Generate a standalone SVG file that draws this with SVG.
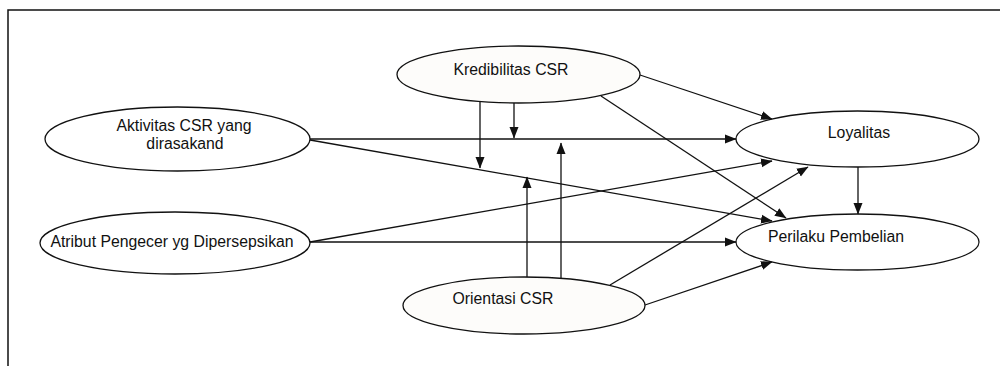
<svg xmlns="http://www.w3.org/2000/svg" width="1000" height="366" viewBox="0 0 1000 366">
<style>
.node ellipse{stroke:#111;stroke-width:1.3;fill:#fff}
.node.tint ellipse{fill:#fdfcfa}
.node text{font-family:"Liberation Sans",Arial,sans-serif;font-size:15.8px;fill:#111;text-anchor:middle}
#connectors line{stroke:#111;stroke-width:1.3;fill:none;marker-end:url(#arr)}
.frame{stroke:#111;stroke-width:1.5;fill:none}
</style>
<defs>
<marker id="arr" markerUnits="userSpaceOnUse" markerWidth="12" markerHeight="10" viewBox="0 0 12 10" refX="11" refY="5" orient="auto">
<path d="M0,0.5 L11.5,5 L0,9.5 Z" fill="#111"/>
</marker>
</defs>
<rect width="1000" height="366" fill="#fff"/>
<path class="frame" d="M8,366 L8,10 L1000,10"/>

<g id="n-kredibilitas" class="node tint">
<ellipse cx="518.5" cy="74.5" rx="121.5" ry="28.5"/>
<text x="511" y="75">Kredibilitas CSR</text>
</g>
<g id="n-aktivitas" class="node">
<ellipse cx="177.5" cy="139" rx="132.5" ry="32"/>
<text x="184" y="131">Aktivitas CSR yang</text>
<text x="185" y="149">dirasakand</text>
</g>
<g id="n-loyalitas" class="node">
<ellipse cx="857.5" cy="139" rx="121.5" ry="28"/>
<text x="859" y="138">Loyalitas</text>
</g>
<g id="n-atribut" class="node">
<ellipse cx="175" cy="243" rx="135" ry="31"/>
<text x="172" y="247">Atribut Pengecer yg Dipersepsikan</text>
</g>
<g id="n-orientasi" class="node tint">
<ellipse cx="524" cy="305.5" rx="121" ry="28.5"/>
<text x="503" y="304">Orientasi CSR</text>
</g>
<g id="n-perilaku" class="node">
<ellipse cx="857.5" cy="242" rx="121.5" ry="28"/>
<text x="836" y="242">Perilaku Pembelian</text>
</g>

<g id="connectors">
<line x1="310" y1="139" x2="736" y2="139"/>
<line x1="310" y1="140" x2="772" y2="221"/>
<line x1="640" y1="75" x2="772" y2="119"/>
<line x1="601" y1="96" x2="786" y2="218"/>
<line x1="480" y1="102" x2="480" y2="168"/>
<line x1="514" y1="103" x2="514" y2="138"/>
<line x1="310" y1="242" x2="772" y2="161"/>
<line x1="310" y1="242" x2="736" y2="242"/>
<line x1="527" y1="277" x2="527" y2="177"/>
<line x1="561" y1="278" x2="561" y2="143"/>
<line x1="610" y1="285" x2="808" y2="167"/>
<line x1="645" y1="305" x2="772" y2="262"/>
<line x1="858" y1="167" x2="858" y2="214"/>
</g>
</svg>
